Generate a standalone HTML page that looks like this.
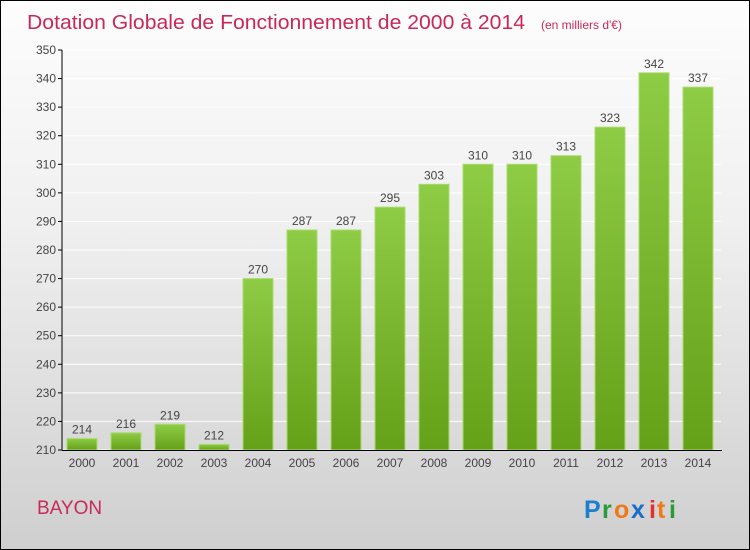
<!DOCTYPE html>
<html><head><meta charset="utf-8"><style>
body{margin:0}
#c{position:relative;width:748px;height:548px;border:1px solid #000;background:linear-gradient(#fdfdfd,#f0f0f0 40%,#cfcfcf);font-family:"Liberation Sans",sans-serif;overflow:hidden}
</style></head><body>
<div id="c">
<svg width="748" height="548" style="position:absolute;left:0;top:0" id="svg">
<defs><linearGradient id="g" x1="0" y1="0" x2="0" y2="1"><stop offset="0" stop-color="#8fcc45"/><stop offset="1" stop-color="#64a018"/></linearGradient></defs>
<text x="26" y="28" font-size="20" textLength="498" lengthAdjust="spacingAndGlyphs" fill="#c8285a">Dotation Globale de Fonctionnement de 2000 à 2014</text>
<text x="540" y="28" font-size="12" fill="#c8285a">(en milliers d'€)</text>
<text x="36" y="513" font-size="19" fill="#c8285a">BAYON</text>
<g font-size="25" font-weight="bold">
<text x="583" y="517" fill="#1a7fd0">P</text><text x="601" y="517" fill="#2a9a3a">r</text><text x="613" y="517" fill="#f07818">o</text><text x="630" y="517" fill="#1a6ec8">x</text><text x="648" y="517" fill="#e03030">i</text><text x="656" y="517" fill="#f07818">t</text><text x="668" y="517" fill="#2a9a3a">i</text>
</g>
<g id="plot"></g>
</svg>
</div>
<script>
const categories=["2000","2001","2002","2003","2004","2005","2006","2007","2008","2009","2010","2011","2012","2013","2014"];
const values=[214,216,219,212,270,287,287,295,303,310,310,313,323,342,337];
const yTicks=[210,220,230,240,250,260,270,280,290,300,310,320,330,340,350];
const y=v=>449-(v-210)*400/140;
const x=i=>66+i*44;
const NS="http://www.w3.org/2000/svg";
const p=document.getElementById('plot');
function mk(t,a){const e=document.createElementNS(NS,t);for(const k in a)e.setAttribute(k,a[k]);p.appendChild(e);return e;}
yTicks.forEach(t=>{
 const l=mk('line',{x1:62,x2:720,y1:y(t),y2:y(t),stroke:'#fff','stroke-width':1});
 
 
 const tk=mk('line',{x1:57,x2:61,y1:y(t),y2:y(t),stroke:'#000'});
 
 
 const tx=mk('text',{x:55,y:y(t)+4,'font-size':12,fill:'#444','text-anchor':'end'});
 tx.textContent=t;
 
 
});
values.forEach((v,i)=>{
 const r=mk('rect',{x:x(i),y:y(v),width:30,height:y(210)-y(v),fill:'url(#g)',stroke:'#a8dc70','stroke-width':1});
 
 
 const t=mk('text',{x:x(i)+15,y:y(v)-5,'font-size':12,fill:'#444','text-anchor':'middle'});
 t.textContent=v;
 
 
 const c=mk('text',{x:x(i)+15,y:466,'font-size':12,fill:'#444','text-anchor':'middle'});
 c.textContent=categories[i];
 
 
});
const ya=mk('line',{x1:61,x2:61,y1:y(350),y2:y(210),stroke:'#000'});


const xa=mk('line',{x1:61,x2:721,y1:y(210)+0.5,y2:y(210)+0.5,stroke:'#000'});


</script>
</body></html>
